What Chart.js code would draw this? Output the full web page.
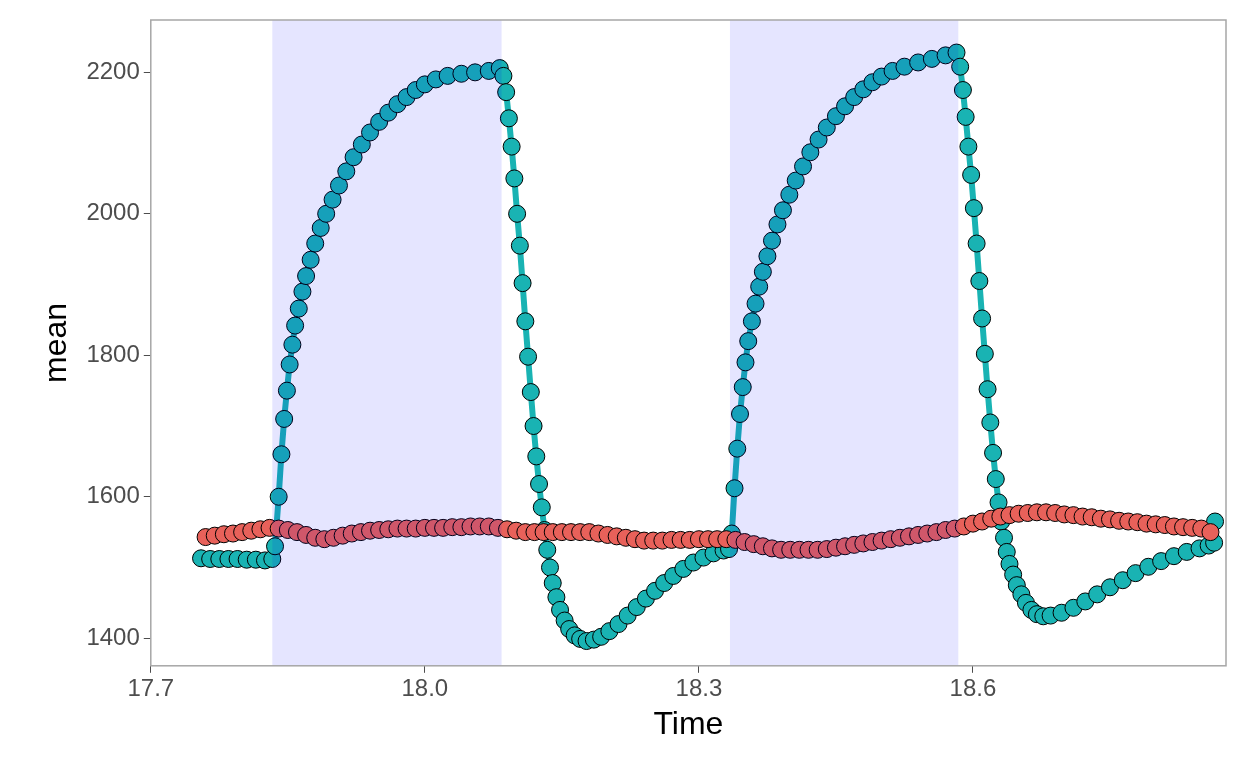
<!DOCTYPE html>
<html lang="en">
<head>
    <meta charset="UTF-8">
    <title>mean over Time</title>
    <script src="https://cdn.jsdelivr.net/npm/chart.js"></script>
    <style>
        body { margin: 0; background: white; }
        .chart-container { width: 1259px; height: 778px; }
    </style>
</head>
<body>
    <div class="chart-container">
        <canvas id="meanChart"></canvas>
    </div>
    <script>
        // teal series (uneven sampling)
        const tealTime = [17.755,17.765,17.775,17.785,17.795,17.805,17.815,17.825,17.833,
            17.836,17.840,17.843,17.846,17.849,17.852,17.855,17.858,17.862,17.866,17.870,17.875,17.880,17.886,17.892,17.899,17.906,17.914,17.922,17.931,17.940,17.950,17.960,17.970,17.980,17.990,18.000,18.012,18.025,18.040,18.055,18.070,18.082,
            18.086,18.089,18.092,18.095,18.098,18.101,18.104,18.107,18.110,18.113,18.116,18.119,18.122,18.125,18.128,18.131,18.134,18.137,18.140,18.144,18.148,18.153,18.158,18.164,18.170,18.177,18.185,18.193,18.202,18.212,18.222,18.232,18.242,18.252,18.262,18.272,18.283,18.294,18.305,18.316,18.327,18.333,
            18.336,18.339,18.342,18.345,18.348,18.351,18.354,18.358,18.362,18.366,18.370,18.375,18.380,18.386,18.392,18.399,18.406,18.414,18.422,18.431,18.440,18.450,18.460,18.470,18.480,18.490,18.500,18.512,18.525,18.540,18.555,18.570,18.582,
            18.586,18.589,18.592,18.595,18.598,18.601,18.604,18.607,18.610,18.613,18.616,18.619,18.622,18.625,18.628,18.631,18.634,18.637,18.640,18.644,18.648,18.653,18.658,18.664,18.670,18.677,
            18.685,18.697,18.710,18.723,18.736,18.750,18.764,18.778,18.792,18.806,18.820,18.834,18.848,18.858,18.864,18.865];
        const tealMean = [1513,1512,1512,1512,1512,1511,1511,1510,1512,
            1530,1600,1660,1710,1750,1787,1815,1842,1866,1890,1912,1935,1958,1980,2000,2020,2040,2060,2080,2098,2115,2130,2143,2155,2165,2175,2183,2190,2195,2198,2200,2202,2206,
            2195,2172,2135,2095,2050,2000,1955,1902,1848,1798,1748,1700,1657,1618,1585,1553,1525,1500,1478,1458,1440,1425,1413,1404,1399,1396,1398,1402,1410,1420,1432,1444,1456,1467,1478,1488,1498,1507,1514,1520,1524,1526,
            1548,1612,1668,1717,1755,1790,1820,1848,1873,1897,1918,1940,1962,1985,2005,2027,2047,2067,2087,2105,2122,2138,2152,2165,2176,2186,2194,2202,2208,2214,2219,2224,2228,
            2208,2175,2137,2095,2055,2008,1958,1905,1852,1802,1752,1705,1662,1625,1592,1565,1542,1522,1505,1490,1475,1462,1450,1440,1434,1431,
            1432,1436,1443,1452,1462,1472,1482,1492,1501,1509,1516,1522,1527,1531,1535,1565];

        // red series
        const redTime = [17.76,17.77,17.78,17.79,17.80,17.81,17.82,17.83,17.84,17.85,17.86,17.87,17.88,17.89,17.90,17.91,17.92,17.93,17.94,17.95,17.96,17.97,17.98,17.99,
            18.00,18.01,18.02,18.03,18.04,18.05,18.06,18.07,18.08,18.09,18.10,18.11,18.12,18.13,18.14,18.15,18.16,18.17,18.18,18.19,18.20,18.21,18.22,18.23,18.24,18.25,18.26,18.27,18.28,18.29,
            18.30,18.31,18.32,18.33,18.34,18.35,18.36,18.37,18.38,18.39,18.40,18.41,18.42,18.43,18.44,18.45,18.46,18.47,18.48,18.49,18.50,18.51,18.52,18.53,18.54,18.55,18.56,18.57,18.58,18.59,
            18.60,18.61,18.62,18.63,18.64,18.65,18.66,18.67,18.68,18.69,18.70,18.71,18.72,18.73,18.74,18.75,18.76,18.77,18.78,18.79,18.80,18.81,18.82,18.83,18.84,18.85,18.86];
        const redMean = [1543,1545,1547,1548,1550,1552,1554,1556,1555,1553,1550,1546,1542,1540,1542,1545,1548,1550,1552,1553,1554,1555,1555,1555,
            1556,1556,1556,1557,1557,1558,1558,1558,1556,1554,1552,1550,1550,1550,1550,1550,1550,1550,1550,1548,1546,1544,1542,1540,1538,1538,1538,1539,1539,1539,
            1540,1540,1540,1540,1539,1536,1533,1530,1527,1525,1525,1525,1525,1525,1526,1528,1530,1532,1534,1536,1538,1540,1542,1544,1546,1548,1550,1553,1555,1558,
            1562,1565,1569,1572,1574,1576,1577,1578,1578,1577,1575,1574,1572,1571,1569,1568,1566,1565,1564,1562,1561,1560,1558,1557,1556,1555,1550];

        // shaded intervals [start, end]
        const shadeStart = [17.833, 18.334];
        const shadeEnd = [18.084, 18.584];
        const xTicks = [17.7, 18.0, 18.3, 18.6];
        const yTicks = [1400, 1600, 1800, 2000, 2200];

        const toPoints = (xs, ys) => xs.map((x, i) => ({ x: x, y: ys[i] }));

        // shading drawn over the points with alpha, plus the panel border
        const shadePlugin = {
            id: 'shade',
            afterDatasetsDraw(chart) {
                const { ctx, chartArea, scales } = chart;
                ctx.save();
                ctx.fillStyle = 'rgba(0, 0, 255, 0.1)';
                shadeStart.forEach((s, i) => {
                    const x0 = scales.x.getPixelForValue(s);
                    const x1 = scales.x.getPixelForValue(shadeEnd[i]);
                    ctx.fillRect(x0, chartArea.top, x1 - x0, chartArea.bottom - chartArea.top);
                });
                ctx.strokeStyle = '#a6a6a6';
                ctx.lineWidth = 1.5;
                ctx.strokeRect(chartArea.left, chartArea.top, chartArea.right - chartArea.left, chartArea.bottom - chartArea.top);
                ctx.restore();
            }
        };

        const tickFont = { family: 'Liberation Sans', size: 24 };
        const titleFont = { family: 'Liberation Sans', size: 32 };

        new Chart(document.getElementById('meanChart'), {
            type: 'scatter',
            data: {
                datasets: [
                    {
                        data: toPoints(redTime, redMean),
                        showLine: true,
                        borderColor: '#e8615a',
                        borderWidth: 5,
                        pointBackgroundColor: '#e8615a',
                        pointBorderColor: '#000',
                        pointBorderWidth: 1,
                        pointRadius: 8.5
                    },
                    {
                        data: toPoints(tealTime, tealMean),
                        showLine: true,
                        borderColor: '#19b3b3',
                        borderWidth: 6,
                        pointBackgroundColor: '#19b3b3',
                        pointBorderColor: '#000',
                        pointBorderWidth: 1,
                        pointRadius: 8.5
                    }
                ]
            },
            options: {
                responsive: true,
                maintainAspectRatio: false,
                animation: false,
                layout: { padding: { top: 20, right: 33, bottom: 30, left: 34 } },
                plugins: { legend: { display: false }, tooltip: { enabled: false } },
                scales: {
                    x: {
                        type: 'linear',
                        min: 17.7,
                        max: 18.877,
                        afterBuildTicks: axis => { axis.ticks = xTicks.map(v => ({ value: v })); },
                        ticks: { color: '#4d4d4d', font: tickFont, callback: v => v.toFixed(1), padding: 2 },
                        grid: { display: true, drawOnChartArea: false, drawTicks: true, tickLength: 7, color: '#4d4d4d' },
                        border: { display: false },
                        title: { display: true, text: 'Time', color: '#000', font: titleFont, padding: { top: 0 } }
                    },
                    y: {
                        min: 1361,
                        max: 2274,
                        afterBuildTicks: axis => { axis.ticks = yTicks.map(v => ({ value: v })); },
                        ticks: { color: '#4d4d4d', font: tickFont, callback: v => String(v), padding: 4 },
                        grid: { display: true, drawOnChartArea: false, drawTicks: true, tickLength: 7, color: '#4d4d4d' },
                        border: { display: false },
                        title: { display: true, text: 'mean', color: '#000', font: titleFont, padding: { bottom: 6 } }
                    }
                }
            },
            plugins: [shadePlugin]
        });
    </script>
</body>
</html>
